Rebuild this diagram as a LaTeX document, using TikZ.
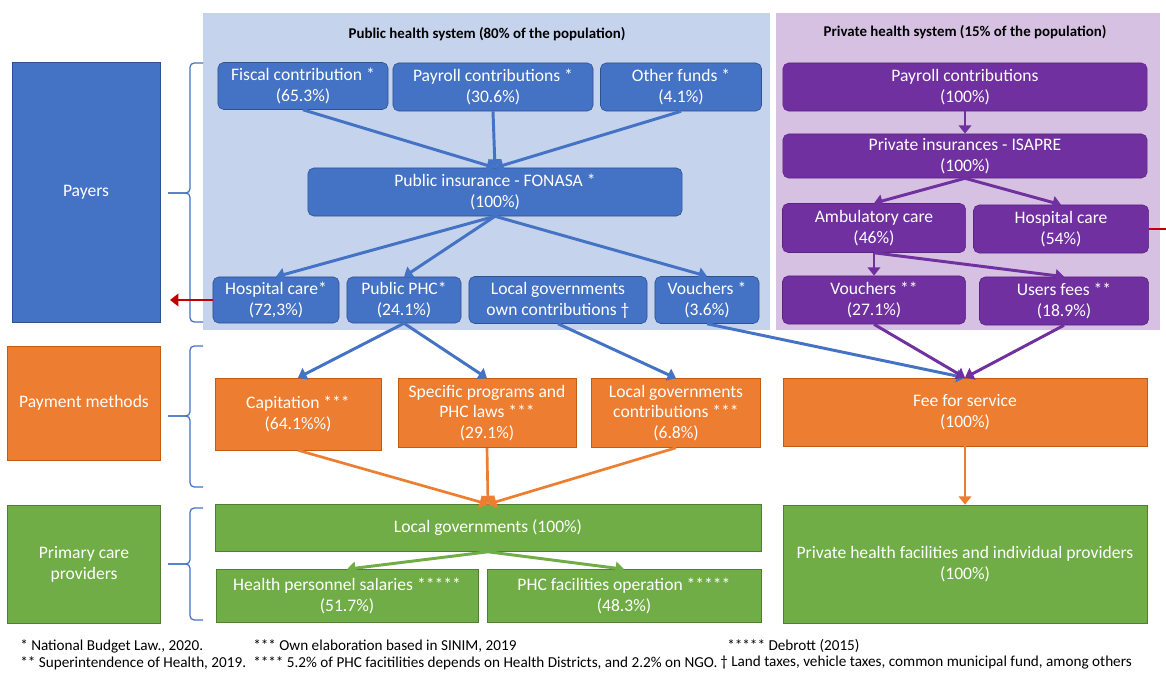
\documentclass[tikz,border=0pt]{standalone}
\usepackage{fontspec}
\setmainfont{Carlito}
\usetikzlibrary{arrows.meta}

\definecolor{pubblue}{HTML}{4472C4}
\definecolor{pubedge}{HTML}{2F528F}
\definecolor{pubbg}{RGB}{197,211,236}
\definecolor{privpurple}{HTML}{7030A0}
\definecolor{privedge}{HTML}{5B2483}
\definecolor{privbg}{RGB}{214,193,226}
\definecolor{payorange}{HTML}{ED7D31}
\definecolor{payedge}{HTML}{C55A11}
\definecolor{provgreen}{HTML}{70AD47}
\definecolor{provedge}{HTML}{507E32}
\definecolor{darkred}{HTML}{C00000}

\begin{document}
\begin{tikzpicture}
[x=0.025cm,y=-0.025cm,
 font=\fontsize{12.5}{14.8}\selectfont,
 pubbox/.style={rectangle,rounded corners=4pt,draw=pubedge,fill=pubblue,text=white,align=center,inner sep=1pt},
 privbox/.style={rectangle,rounded corners=4pt,draw=privedge,fill=privpurple,text=white,align=center,inner sep=1pt},
 paybox/.style={rectangle,draw=payedge,fill=payorange,text=white,align=center,inner sep=1pt},
 provbox/.style={rectangle,draw=provedge,fill=provgreen,text=white,align=center,inner sep=1pt},
 tip/.style={-{Triangle[length=6pt,width=9pt]}},
 bluearr/.style={tip,pubblue,line width=2.1pt},
 purparr/.style={tip,privpurple,line width=2.1pt},
 orangearr/.style={tip,payorange,line width=1.9pt},
 greenarr/.style={tip,provgreen,line width=2.1pt},
 bracket/.style={draw=pubblue,line width=0.9pt,rounded corners=3pt},
 note/.style={anchor=west,inner sep=0pt,font=\fontsize{10.8}{12}\selectfont},
 title/.style={font=\fontsize{10.6}{12}\selectfont\bfseries}]
\useasboundingbox (0,0) rectangle (1166,675);

% backgrounds
\fill[pubbg] (203,13) rectangle (770,330);
\fill[privbg] (776,13) rectangle (1160,330);
\node[title] (pubtitle) at (487,34) {Public health system (80\% of the population)};
\node[title] (privtitle) at (965,32) {Private health system (15\% of the population)};

% levels
\node[rectangle,draw=pubedge,fill=pubblue,text=white,minimum width=3.7cm,minimum height=6.5cm] (payers) at (86,192) {Payers};
\node[paybox,minimum width=3.825cm,minimum height=2.85cm] (methods) at (84,403) {Payment methods};
\node[provbox,minimum width=3.825cm,minimum height=2.95cm] (providers) at (84,564) {Primary care\\providers};

\draw[bracket] (203,63) -- (190,63) -- (190,193) -- (168,193);
\draw[bracket] (168,193) -- (190,193) -- (190,322) -- (203,322);
\draw[bracket] (203,346) -- (190,346) -- (190,416) -- (168,416);
\draw[bracket] (168,416) -- (190,416) -- (190,487) -- (203,487);
\draw[bracket] (203,508) -- (190,508) -- (190,564) -- (168,564);
\draw[bracket] (168,564) -- (190,564) -- (190,620) -- (203,620);

% public payers
\node[pubbox,minimum width=4.25cm,minimum height=1.175cm] (fiscal) at (303,86) {Fiscal contribution *\\(65.3\%)};
\node[pubbox,minimum width=5cm,minimum height=1.2cm] (payroll) at (493,87) {Payroll contributions *\\(30.6\%)};
\node[pubbox,minimum width=4.025cm,minimum height=1.2cm] (other) at (681,87) {Other funds *\\(4.1\%)};
\node[pubbox,minimum width=9.35cm,minimum height=1.2cm] (fonasa) at (495,192) {Public insurance - FONASA *\\(100\%)};
\node[pubbox,minimum width=3.15cm,minimum height=1.15cm] (hosp) at (276,300) {Hospital care*\\(72,3\%)};
\node[pubbox,minimum width=2.85cm,minimum height=1.15cm] (phc) at (404,300) {Public PHC*\\(24.1\%)};
\node[pubbox,minimum width=4.45cm,minimum height=1.175cm] (localown) at (558,300) {Local governments\\own contributions †};
\node[pubbox,minimum width=2.6cm,minimum height=1.175cm] (vouch) at (707,300) {Vouchers *\\(3.6\%)};

% private payers
\node[privbox,minimum width=9.1cm,minimum height=1.2cm] (ppayroll) at (965,87) {Payroll contributions\\(100\%)};
\node[privbox,minimum width=9.1cm,minimum height=1.1cm] (isapre) at (965,156) {Private insurances - ISAPRE\\(100\%)};
\node[privbox,minimum width=4.575cm,minimum height=1.225cm] (amb) at (874,228) {Ambulatory care\\(46\%)};
\node[privbox,minimum width=4.375cm,minimum height=1.2cm] (hosp2) at (1061,229) {Hospital care\\(54\%)};
\node[privbox,minimum width=4.575cm,minimum height=1.2cm] (vouch2) at (874,300) {Vouchers **\\(27.1\%)};
\node[privbox,minimum width=4.225cm,minimum height=1.2cm] (fees) at (1064,301) {Users fees **\\(18.9\%)};

% payment methods
\node[paybox,minimum width=4.15cm,minimum height=1.8cm] (capit) at (298,414) {Capitation ***\\(64.1\%\%)};
\node[paybox,minimum width=4.45cm,minimum height=1.725cm] (specific) at (487,413) {Specific programs and\\PHC laws ***\\(29.1\%)};
\node[paybox,minimum width=4.225cm,minimum height=1.725cm] (localcon) at (676,413) {Local governments\\contributions ***\\(6.8\%)};
\node[paybox,minimum width=9.1cm,minimum height=1.7cm] (fee) at (965,412) {Fee for service\\(100\%)};

% providers
\node[provbox,minimum width=13.65cm,minimum height=1.175cm] (localgov) at (488,528) {Local governments (100\%)};
\node[provbox,minimum width=6.55cm,minimum height=1.325cm] (salaries) at (347,596) {Health personnel salaries *****\\(51.7\%)};
\node[provbox,minimum width=6.85cm,minimum height=1.325cm] (facil) at (624,596) {PHC facilities operation *****\\(48.3\%)};
\node[provbox,minimum width=9.1cm,minimum height=2.95cm] (privfac) at (965,564) {Private health facilities and individual providers\\(100\%)};

% flows
\path[bluearr] (fiscal.south) edge (fonasa.north)
(payroll.south) edge (fonasa.north)
(other.south) edge (fonasa.north);
\path[bluearr] (fonasa.south) edge (hosp.north) edge (phc.north) edge (vouch.north);
\path[bluearr] (phc.south) edge (capit.north) edge (specific.north)
(localown.south) edge (localcon.north)
(vouch.south) edge (fee.north);
\path[purparr] (ppayroll.south) edge (isapre.north)
(isapre.south) edge (amb.north) edge (hosp2.north)
(amb.south) edge (vouch2.north) edge (fees.north)
(vouch2.south) edge (fee.north)
(fees.south) edge (fee.north);
\path[orangearr] (capit.south) edge (localgov.north)
(specific.south) edge (localgov.north)
(localcon.south) edge (localgov.north)
(fee.south) edge (privfac.north);
\path[greenarr] (localgov.south) edge (salaries.north) edge (facil.north);

\coordinate (hospout) at (170,300);
\coordinate (hosp2out) at (1166,229);
\draw[tip,darkred,line width=2.1pt] (hosp.west) -- (hospout);
\draw[darkred,line width=2.1pt] (hosp2.east) -- (hosp2out);

% notes
\node[note] (n1) at (20,646) {* National Budget Law., 2020.};
\node[note] (n2) at (20,663) {** Superintendence of Health, 2019.};
\node[note] (n3) at (253,646) {*** Own elaboration based in SINIM, 2019};
\node[note] (n4) at (253,663) {**** 5.2\% of PHC facitilities depends on Health Districts, and 2.2\% on NGO.};
\node[note] (n5) at (727,646) {***** Debrott (2015)};
\node[note] (n6) at (720,663) {† Land taxes, vehicle taxes, common municipal fund, among others};
\end{tikzpicture}
\end{document}
